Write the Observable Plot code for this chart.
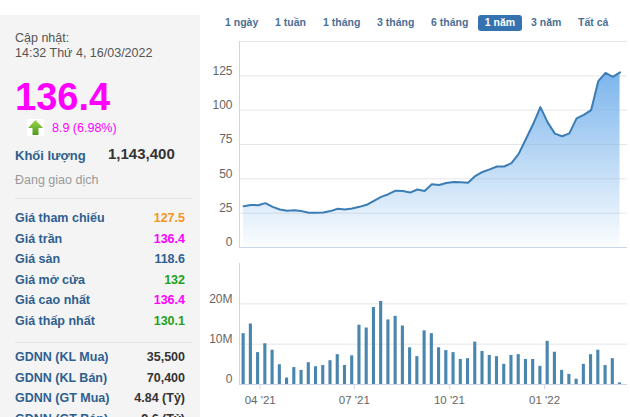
<!DOCTYPE html>
<html>
<head>
<meta charset="utf-8">
<script src="https://cdn.jsdelivr.net/npm/d3@7"></script>
<script src="https://cdn.jsdelivr.net/npm/@observablehq/plot@0.6"></script>
<style>
  body { margin: 0; background: #fff; }
  #root { position: relative; width: 630px; height: 417px; overflow: hidden; background: #fff;
          font-family: "Liberation Sans", Arial, sans-serif; }
  .t { position: absolute; white-space: nowrap; line-height: 1; }
  .chart { position: absolute; left: 200px; }
  .chart svg { display: block; overflow: visible; }
  .vol g[aria-label^="x-axis"] line, .vol g[aria-label^="x-axis"] path { stroke: #ccd6eb; }
</style>
</head>
<body>
<div id="root">
  <div style="position:absolute;left:0;top:15px;width:200px;height:402px;background:#f4f4f4"></div>
  <div style="position:absolute;left:15px;top:198px;width:177px;height:1px;background:#e4e4e4"></div>
  <div style="position:absolute;left:15px;top:342px;width:177px;height:1px;background:#e4e4e4"></div>
  <svg style="position:absolute;left:27px;top:119px" width="17" height="17" viewBox="0 0 17 17">
    <defs><linearGradient id="arr" x1="0" y1="0" x2="0" y2="1">
      <stop offset="0" stop-color="#9ad64a"/><stop offset="1" stop-color="#4c9a1e"/></linearGradient></defs>
    <rect x="0" y="0" width="17" height="17" fill="#fff"/>
    <path d="M8.5 1 L16 9 L11.5 9 L11.5 16 L5.5 16 L5.5 9 L1 9 Z" fill="url(#arr)"/>
  </svg>
  <div style="position:absolute;left:478px;top:15px;width:44px;height:16px;border-radius:3px;background:#3572b0"></div>
  <div id="price" class="chart" style="top:30px"></div>
  <div id="vol" class="chart vol" style="top:255px"></div>
</div>
<script>
// ---- data ----
const startDate = new Date(Date.UTC(2021, 2, 16));
const endDate = new Date(Date.UTC(2022, 2, 16));
const price = [30.1, 31, 30.8, 32.3, 29.6, 27.7, 26.7, 27.2, 26.5, 25.3,
  25.3, 25.5, 26.5, 28.2, 27.7, 28.4, 29.6, 31.1, 34, 36.9,
  38.8, 41.4, 41.2, 40, 42.2, 41.2, 46, 45.5, 47, 47.7,
  47.5, 47.2, 52, 55, 56.9, 59, 59, 61.4, 68.2, 79,
  89.9, 102.2, 91.1, 82.9, 81, 83.1, 94, 96.6, 100, 121.2,
  127.2, 124.3, 127.5];
const volumeM = [12.6, 15.0, 7.9, 10.1, 8.5, 4.9, 1.6, 4.2, 3.5, 5.4,
  4.4, 4.7, 5.9, 7.4, 4.7, 7.1, 14.7, 14.0, 19.1, 20.6,
  16.0, 16.9, 14.5, 9.1, 6.9, 13.3, 12.6, 9.1, 8.4, 7.9,
  6.2, 6.4, 10.5, 8.2, 7.2, 6.9, 5.0, 7.2, 7.4, 6.2,
  6.2, 4.5, 10.7, 8.0, 3.5, 2.5, 1.3, 5.0, 7.4, 8.5,
  4.7, 6.4, 0.4];
const priceTicks = [0, 25, 50, 75, 100, 125];
const priceGrid = [25, 50, 75, 100, 125, 150];
const volTicks = [0, 10, 20];
const xTickLabels = ["2021-04-01", "2021-07-01", "2021-10-01", "2022-01-01"];
const ranges = ["1 ngày", "1 tuần", "1 tháng", "3 tháng", "6 tháng", "1 năm", "3 năm", "Tất cả"];
const activeRange = "1 năm";
const updatedLabel = "Cập nhật:";
const updatedTime = "14:32 Thứ 4, 16/03/2022";
const lastPrice = "136.4";
const change = "8.9 (6.98%)";
const volumeLabel = "Khối lượng";
const volumeValue = "1,143,400";
const status = "Đang giao dịch";
const priceRows = [
  ["Giá tham chiếu", "127.5", "#f7941d"],
  ["Giá trần", "136.4", "#f0f"],
  ["Giá sàn", "118.6", "#2f5f8f"],
  ["Giá mở cửa", "132", "#22a022"],
  ["Giá cao nhất", "136.4", "#f0f"],
  ["Giá thấp nhất", "130.1", "#22a022"]
];
const foreignRows = [
  ["GDNN (KL Mua)", "35,500"],
  ["GDNN (KL Bán)", "70,400"],
  ["GDNN (GT Mua)", "4.84 (Tỷ)"],
  ["GDNN (GT Bán)", "9.6 (Tỷ)"]
];

// ---- text panel ----
const root = document.getElementById("root");
function put(text, x, baseline, size, opts = {}) {
  const el = document.createElement("div");
  el.className = "t";
  el.textContent = text;
  el.style.fontSize = size + "px";
  el.style.top = (baseline - 0.8465 * size) + "px";
  el.style.left = x + "px";
  if (opts.right) el.style.transform = "translateX(-100%)";
  if (opts.center) el.style.transform = "translateX(-50%)";
  el.style.color = opts.color || "#333";
  if (opts.bold) el.style.fontWeight = "bold";
  root.appendChild(el);
  return el;
}
put(updatedLabel, 15, 43, 12.5, {color: "#555"});
put(updatedTime, 15, 58, 12.5, {color: "#555"});
put(lastPrice, 15, 110, 38, {color: "#f0f", bold: true});
put(change, 52, 133, 12.5, {color: "#f0f"});
put(volumeLabel, 15, 160, 13, {color: "#2f5f8f", bold: true});
put(volumeValue, 108, 159, 15, {color: "#333", bold: true});
put(status, 15, 185, 12.5, {color: "#999"});
priceRows.forEach(([l, v, c], i) => {
  const b = 223 + i * 20.5;
  put(l, 15, b, 12.5, {color: "#2f5f8f", bold: true});
  put(v, 185, b, 12.5, {color: c, bold: true, right: true});
});
foreignRows.forEach(([l, v], i) => {
  const b = 362 + i * 20.5;
  put(l, 15, b, 12.5, {color: "#2f5f8f", bold: true});
  put(v, 185, b, 12.5, {color: "#333", bold: true, right: true});
});
const btnX = [225, 275, 323, 377, 431, 500, 531, 578];
ranges.forEach((r, i) => {
  const active = r === activeRange;
  put(r, btnX[i], 26, 10.5, {color: active ? "#fff" : "#4a6f96", bold: true, center: active});
});

// ---- charts ----
const dates = d3.utcTuesday.range(startDate, endDate);
const rows = dates.map((date, i) => ({date, price: price[i], vol: volumeM[i]}));
const xDomain = [new Date(Date.UTC(2021, 2, 12)), new Date(Date.UTC(2022, 2, 22, 5))];
const tickDates = xTickLabels.map(s => new Date(s + "T00:00:00Z"));

const gradMark = () => {
  const defs = document.createElementNS("http://www.w3.org/2000/svg", "defs");
  defs.innerHTML = '<linearGradient id="priceGrad" x1="0" y1="0" x2="0" y2="1">' +
    '<stop offset="0" stop-color="#7cb5ec" stop-opacity="1"/>' +
    '<stop offset="1" stop-color="#7cb5ec" stop-opacity="0.03"/></linearGradient>';
  return defs;
};

const common = {
  width: 430, marginLeft: 39, marginRight: 3,
  style: {fontFamily: "'Liberation Sans', Arial, sans-serif", fontSize: "11.5px", color: "#666", background: "transparent", overflow: "visible"}
};

const pricePlot = Plot.plot({
  ...common,
  height: 225, marginTop: 11, marginBottom: 8,
  x: {type: "utc", domain: xDomain, axis: null},
  y: {domain: [0, 150], axis: null},
  marks: [
    gradMark,
    Plot.ruleY(priceGrid, {stroke: "#e6e6e6"}),
    Plot.areaY(rows, {x: "date", y: "price", fill: "url(#priceGrad)"}),
    Plot.lineY(rows, {x: "date", y: "price", stroke: "#3d7db5", strokeWidth: 2}),
    Plot.ruleY([0], {stroke: "#ccd6eb"}),
    Plot.ruleX([xDomain[0]], {stroke: "#ccd6eb"}),
    Plot.text(priceTicks, {y: d => d, text: d => String(d), frameAnchor: "left", textAnchor: "end", dx: -7, dy: -5, fill: "#666", fontSize: 12})
  ]
});
document.getElementById("price").appendChild(pricePlot);

const volPlot = Plot.plot({
  ...common,
  height: 162, marginTop: 8, marginBottom: 33,
  x: {type: "utc", domain: xDomain, ticks: tickDates, tickFormat: d3.utcFormat("%m '%y"), tickSize: 5, tickPadding: 6, label: null},
  y: {domain: [0, 30], axis: null},
  marks: [
    Plot.ruleY([10, 20], {stroke: "#e6e6e6"}),
    Plot.rectY(rows, {x1: d => d3.utcHour.offset(d.date, -36), x2: d => d3.utcHour.offset(d.date, 36), y: "vol", fill: "#4985ad"}),
    Plot.ruleY([0], {stroke: "#ccd6eb"}),
    Plot.ruleX([xDomain[0]], {stroke: "#ccd6eb"}),
    Plot.text(volTicks, {y: d => d, text: d => d === 0 ? "0" : d + "M", frameAnchor: "left", textAnchor: "end", dx: -7, dy: -5, fill: "#666", fontSize: 12})
  ]
});
document.getElementById("vol").appendChild(volPlot);
</script>
</body>
</html>
